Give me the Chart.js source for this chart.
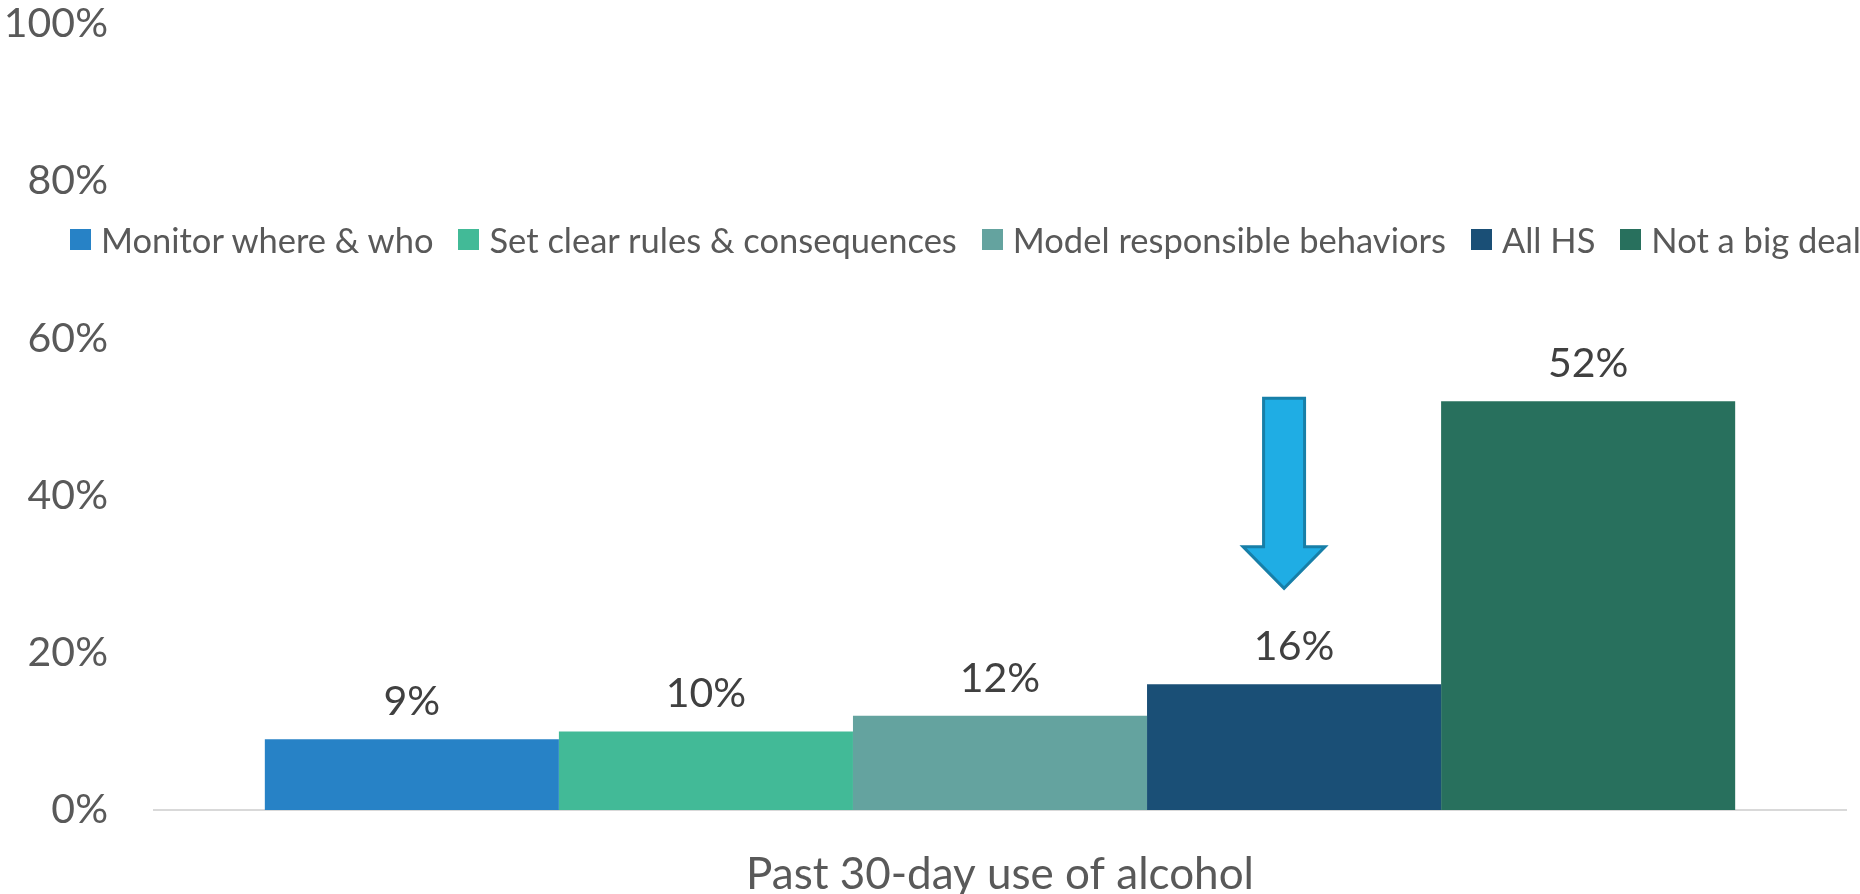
<!DOCTYPE html>
<html>
<head>
<meta charset="utf-8">
<script src="https://cdn.jsdelivr.net/npm/chart.js@4.4.1/dist/chart.umd.min.js"></script>
<style>
  html, body { margin: 0; padding: 0; background: #fff; }
  #wrap { position: relative; width: 1860px; height: 894px; overflow: hidden; }
  #legend {
    position: absolute; left: 70px; top: 229px; height: 21px;
    display: flex; align-items: center; white-space: nowrap;
    font-family: Lato, sans-serif; font-size: 34.5px; color: #595959;
  }
  .item { display: flex; align-items: center; margin-right: 25px; }
  .box { width: 21px; height: 21px; margin-right: 10px; flex: none; }
</style>
</head>
<body>
<div id="wrap">
  <canvas id="chart" width="1860" height="894"></canvas>
  <div id="legend"></div>
</div>
<script>
// Chart data
const categories = ["Past 30-day use of alcohol"];
const seriesNames = [
  "Monitor where & who",
  "Set clear rules & consequences",
  "Model responsible behaviors",
  "All HS",
  "Not a big deal",
];
const seriesValues = [9, 10, 12, 16, 52];
const seriesColors = ["#2782C6", "#42BA97", "#64A39F", "#1A4F76", "#28705D"];
const yTicks = [0, 20, 40, 60, 80, 100];

// Down arrow drawn over the "All HS" bar (values in % of the y axis)
const arrowShape = { series: 3, dx: -10, top: 52.4, headTop: 33.5, tip: 28.2, shaftHalf: 20.5, headHalf: 41 };

const FONT = "Lato, sans-serif";

// Legend as html, built from the same arrays
const legendEl = document.getElementById("legend");
seriesNames.forEach((name, i) => {
  const item = document.createElement("div");
  item.className = "item";
  const box = document.createElement("span");
  box.className = "box";
  box.style.background = seriesColors[i];
  const txt = document.createElement("span");
  txt.textContent = name;
  item.appendChild(box);
  item.appendChild(txt);
  legendEl.appendChild(item);
});

const valueLabels = {
  id: "valueLabels",
  afterDatasetsDraw(chart) {
    const ctx = chart.ctx;
    ctx.save();
    ctx.font = "41px " + FONT;
    ctx.fillStyle = "#404040";
    ctx.textAlign = "center";
    ctx.textBaseline = "alphabetic";
    chart.data.datasets.forEach((ds, i) => {
      const bar = chart.getDatasetMeta(i).data[0];
      ctx.fillText(ds.data[0] + "%", bar.x, bar.y - 24);
    });
    ctx.restore();
  },
};

const downArrow = {
  id: "downArrow",
  afterDatasetsDraw(chart) {
    const ctx = chart.ctx;
    const y = chart.scales.y;
    const bar = chart.getDatasetMeta(arrowShape.series).data[0];
    const cx = bar.x + arrowShape.dx;
    const yTop = y.getPixelForValue(arrowShape.top);
    const yHead = y.getPixelForValue(arrowShape.headTop);
    const yTip = y.getPixelForValue(arrowShape.tip);
    ctx.save();
    ctx.beginPath();
    ctx.moveTo(cx - arrowShape.shaftHalf, yTop);
    ctx.lineTo(cx + arrowShape.shaftHalf, yTop);
    ctx.lineTo(cx + arrowShape.shaftHalf, yHead);
    ctx.lineTo(cx + arrowShape.headHalf, yHead);
    ctx.lineTo(cx, yTip);
    ctx.lineTo(cx - arrowShape.headHalf, yHead);
    ctx.lineTo(cx - arrowShape.shaftHalf, yHead);
    ctx.closePath();
    ctx.fillStyle = "#1FADE4";
    ctx.fill();
    ctx.lineWidth = 3;
    ctx.strokeStyle = "#177FA8";
    ctx.stroke();
    ctx.restore();
  },
};

new Chart(document.getElementById("chart"), {
  type: "bar",
  data: {
    labels: categories,
    datasets: seriesNames.map((name, i) => ({
      label: name,
      data: [seriesValues[i]],
      backgroundColor: seriesColors[i],
      borderWidth: 0,
    })),
  },
  options: {
    responsive: false,
    animation: false,
    devicePixelRatio: 1,
    categoryPercentage: 0.869,
    barPercentage: 1.0,
    layout: { padding: { top: 24, right: 14, left: 0, bottom: 0 } },
    plugins: {
      legend: { display: false },
      tooltip: { enabled: false },
    },
    scales: {
      x: {
        grid: { display: false, drawTicks: false },
        border: { display: true, color: "#D9D9D9", width: 2 },
        ticks: {
          color: "#595959",
          font: { family: FONT, size: 44 },
          padding: 38,
        },
        afterFit: (s) => {
          s.height = 84;
          s.paddingLeft = 0;
          s.paddingRight = 0;
        },
      },
      y: {
        min: 0,
        max: 100,
        grid: { display: false, drawTicks: false },
        border: { display: false },
        ticks: {
          color: "#595959",
          font: { family: FONT, size: 41, lineHeight: 1.0 },
          padding: 46,
          callback: (v) => v + "%",
        },
        afterBuildTicks: (s) => { s.ticks = yTicks.map((v) => ({ value: v })); },
        afterFit: (s) => {
          s.width = 154;
          s.paddingTop = 0;
          s.paddingBottom = 0;
        },
      },
    },
  },
  plugins: [valueLabels, downArrow],
});
</script>
</body>
</html>
